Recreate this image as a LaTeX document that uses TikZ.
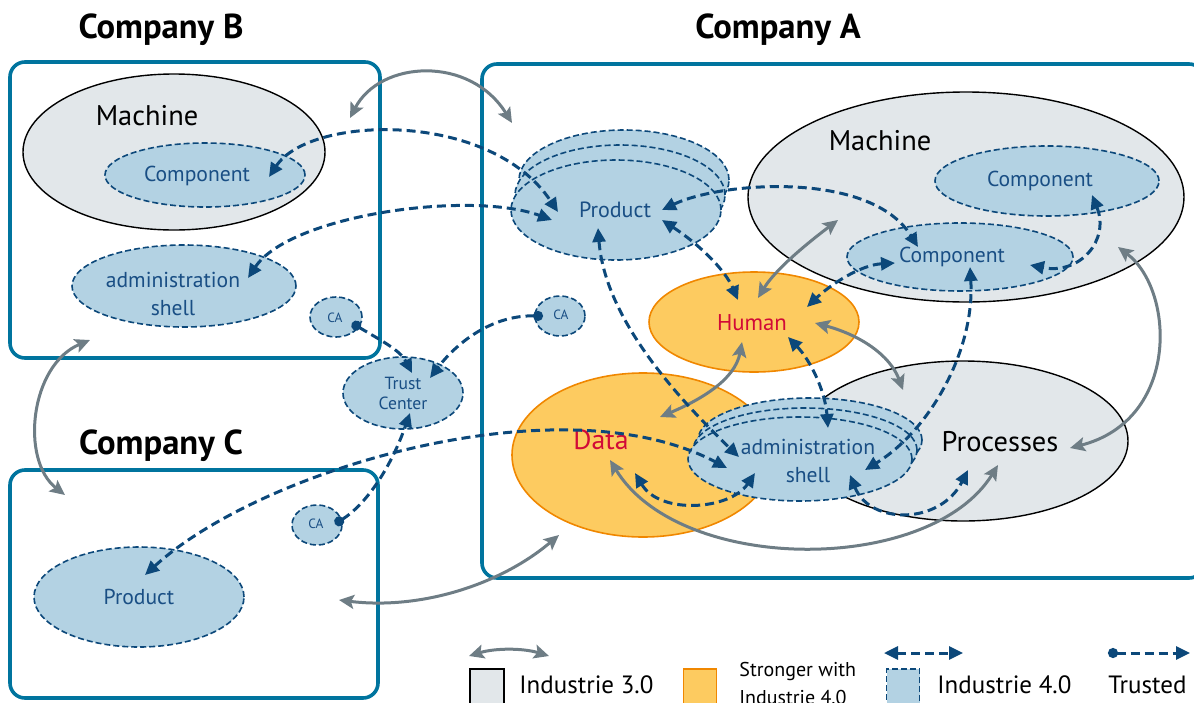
\documentclass[tikz,border=0pt]{standalone}
\usepackage{fontspec}
\setmainfont{PT Sans}
\usetikzlibrary{shapes.geometric,arrows.meta}
\definecolor{boxteal}{RGB}{0,116,158}
\definecolor{grayfill}{RGB}{226,231,234}
\definecolor{bluefill}{RGB}{179,210,227}
\definecolor{darkblue}{RGB}{12,72,122}
\definecolor{textblue}{RGB}{25,78,132}
\definecolor{orangefill}{RGB}{253,203,96}
\definecolor{orangeline}{RGB}{240,135,0}
\definecolor{arrowgray}{RGB}{110,125,133}
\definecolor{redtext}{RGB}{210,10,55}
\begin{document}
\begin{tikzpicture}[x=0.5pt,y=-0.5pt,
  company/.style={draw=boxteal, line width=1.8pt, rounded corners=7.5pt, inner sep=0pt},
  sz/.style 2 args={minimum width=#1pt, minimum height=#2pt},
  ithree/.style={ellipse, draw=black, line width=0.7pt, fill=grayfill, inner sep=0pt},
  ifour/.style={ellipse, draw=darkblue, line width=0.8pt, dash pattern=on 3pt off 1.5pt, fill=bluefill, inner sep=0pt},
  stronger/.style={ellipse, draw=orangeline, line width=0.8pt, fill=orangefill, inner sep=0pt},
  title/.style={font=\bfseries\fontsize{17.3}{20}\selectfont, inner sep=0pt},
  biglab/.style={font=\fontsize{14.2}{16}\selectfont, inner sep=0pt},
  bluelab/.style={font=\fontsize{10.8}{14}\selectfont, text=textblue, align=center, inner sep=0pt},
  calab/.style={font=\fontsize{6.7}{8}\selectfont, text=textblue, inner sep=0pt},
  tclab/.style={font=\fontsize{8.8}{10}\selectfont, text=textblue, align=center, inner sep=0pt},
  redlab/.style={text=redtext, inner sep=0pt},
  leglab/.style={font=\fontsize{12.5}{14}\selectfont, anchor=west, inner sep=0pt},
  gr/.style={draw=arrowgray, line width=1.5pt,
    {Stealth[length=7.5pt,width=7pt,inset=1.5pt]}-{Stealth[length=7.5pt,width=7pt,inset=1.5pt]}},
  bl/.style={draw=darkblue, line width=1.5pt, dash pattern=on 4.5pt off 2.5pt,
    {Triangle[length=7pt,width=6.5pt]}-{Triangle[length=7pt,width=6.5pt]}},
  tr/.style={draw=darkblue, line width=1.5pt, dash pattern=on 4.5pt off 2.5pt,
    {Circle[length=5pt]}-{Triangle[length=7pt,width=6.5pt]}}
]
\useasboundingbox (0,0) rectangle (1194,702);
\clip (0,0) rectangle (1194,702);

% company frames
\node[company, sz={185}{148}] (boxB) at (195,210) {};
\node[company, sz={361}{257}] (boxA) at (843,321) {};
\node[company, sz={184}{114}] (boxC) at (194,584) {};
\node[title] (titleB) at (161,30) {Company B};
\node[title] (titleA) at (778,30) {Company A};
\node[title] (titleC) at (161,446) {Company C};

% Company B
\node[ithree, sz={151}{78}] (machB) at (174,152) {};
\node[biglab] (machBl) at (147,116) {Machine};
\node[ifour, sz={100}{32}] (compB) at (205,175) {};
\node[bluelab] (compBl) at (197,176) {Component};
\node[ifour, sz={112}{41}] (adminB) at (184,286) {};
\node[bluelab] (adminBl) at (173,294) {administration\\shell};
\node[ifour, sz={26}{20}] (caB) at (336,317) {};
\node[calab] (caBl) at (335,318) {CA};

% between the companies
\node[ifour, sz={60}{36}] (trust) at (403,393) {};
\node[tclab] (trustl) at (403,393) {Trust\\Center};
\node[ifour, sz={25}{20}] (caA) at (560,316) {};
\node[calab] (caAl) at (561,315) {CA};

% Company C
\node[ifour, sz={25}{20}] (caC) at (317,525) {};
\node[calab] (caCl) at (316,524) {CA};
\node[ifour, sz={105}{50}] (prodC) at (139,597) {};
\node[bluelab] (prodCl) at (139,597) {Product};

% Company A
\node[ithree, sz={218}{105}] (machA) at (966,197) {};
\node[biglab] (machAl) at (880,141) {Machine};
\node[ifour, sz={112}{35}] (compA1) at (1047,181) {};
\node[bluelab] (compA1l) at (1040,181) {Component};
\node[ifour, sz={113}{34}] (compA2) at (960,257) {};
\node[bluelab] (compA2l) at (952,257) {Component};
\node[ithree, sz={165}{80}] (proc) at (963,441) {};
\node[biglab] (procl) at (1000,442) {Processes};
\node[stronger, sz={105}{50}] (human) at (754,322) {};
\node[redlab, font=\fontsize{11.4}{13}\selectfont] (humanl) at (752,323) {Human};
\node[stronger, sz={131}{82}] (data) at (643,455) {};
\node[redlab, font=\fontsize{13.9}{16}\selectfont] (datal) at (601,440) {Data};
\node[ifour, sz={105}{50}] (prodA3) at (624,180) {};
\node[ifour, sz={105}{50}] (prodA2) at (620,195) {};
\node[ifour, sz={105}{50}] (prodA) at (616,210) {};
\node[bluelab, font=\fontsize{11}{14}\selectfont] (prodAl) at (615,210) {Product};
\node[ifour, sz={112}{42}] (adminA3) at (810,440) {};
\node[ifour, sz={112}{42}] (adminA2) at (805,450) {};
\node[ifour, sz={112}{42}] (adminA) at (800,459) {};
\node[bluelab] (adminAl) at (808,461) {administration\\shell};

% connector ends
\coordinate (gTopB) at (350,118);   \coordinate (gTopA) at (512,123);
\coordinate (gLeftB) at (90,340);   \coordinate (gLeftC) at (65,495);
\coordinate (gBotC) at (339,600);   \coordinate (gBotA) at (559,535);
\coordinate (gMach) at (838,220);   \coordinate (gHumTop) at (758,298);
\coordinate (gHumR) at (815,323);   \coordinate (gProcTop) at (903,390);
\coordinate (gHumB) at (742,342);   \coordinate (gDataTop) at (660,417);
\coordinate (gMachR) at (1118,247); \coordinate (gProcR) at (1070,448);
\coordinate (gDataIn) at (610,460); \coordinate (gProcIn) at (998,465);

\coordinate (bCompB) at (269,177);  \coordinate (bProd1) at (558,212);
\coordinate (bAdminB) at (248,278); \coordinate (bProd2) at (552,220);
\coordinate (bProdR) at (662,210);  \coordinate (bComp2a) at (918,247);
\coordinate (bProdR2) at (662,220); \coordinate (bHum1) at (738,300);
\coordinate (bProdB) at (598,228);  \coordinate (bAdm1) at (739,457);
\coordinate (bComp2b) at (895,263); \coordinate (bHum2) at (807,307);
\coordinate (bComp1) at (1092,195); \coordinate (bComp2c) at (1030,265);
\coordinate (bComp2d) at (970,267); \coordinate (bAdm2) at (865,470);
\coordinate (bHum3) at (788,337);   \coordinate (bAdm3) at (828,428);
\coordinate (bData) at (635,473);   \coordinate (bAdm4) at (755,473);
\coordinate (bAdm5) at (850,475);   \coordinate (bProc) at (968,470);
\coordinate (bProdC) at (145,575);  \coordinate (bAdm6) at (727,468);

\coordinate (tCaB) at (352,323);    \coordinate (tTc1) at (412,373);
\coordinate (tCaA) at (543,316);    \coordinate (tTc2) at (430,378);
\coordinate (tCaC) at (335,524);    \coordinate (tTc3) at (410,413);

% Industrie 3.0 links
\draw[gr] (gTopB) .. controls (380,60) and (470,55) .. (gTopA);
\draw[gr] (gLeftB) .. controls (30,365) and (20,460) .. (gLeftC);
\draw[gr] (gBotC) .. controls (420,610) and (500,585) .. (gBotA);
\draw[gr] (gMach) .. controls (805,245) and (775,270) .. (gHumTop);
\draw[gr] (gHumR) .. controls (860,335) and (890,355) .. (gProcTop);
\draw[gr] (gHumB) .. controls (735,380) and (700,400) .. (gDataTop);
\draw[gr] (gMachR) .. controls (1175,290) and (1180,420) .. (gProcR);
\draw[gr] (gDataIn) .. controls (680,575) and (930,575) .. (gProcIn);

% Industrie 4.0 links
\draw[bl] (bCompB) .. controls (310,115) and (490,110) .. (bProd1);
\draw[bl] (bAdminB) .. controls (290,215) and (470,190) .. (bProd2);
\draw[bl] (bProdR) .. controls (720,182) and (870,170) .. (bComp2a);
\draw[bl] (bProdR2) .. controls (700,245) and (725,270) .. (bHum1);
\draw[bl] (bProdB) .. controls (605,320) and (680,400) .. (bAdm1);
\draw[bl] (bComp2b) .. controls (860,265) and (830,285) .. (bHum2);
\draw[bl] (bComp1) .. controls (1110,240) and (1080,275) .. (bComp2c);
\draw[bl] (bComp2d) .. controls (975,350) and (930,430) .. (bAdm2);
\draw[bl] (bHum3) .. controls (810,360) and (825,390) .. (bAdm3);
\draw[bl] (bData) .. controls (660,515) and (730,510) .. (bAdm4);
\draw[bl] (bAdm5) .. controls (870,525) and (940,525) .. (bProc);
\draw[bl] (bProdC) .. controls (260,470) and (560,380) .. (bAdm6);

% trusted links
\draw[tr] (tCaB) .. controls (380,340) and (400,350) .. (tTc1);
\draw[tr] (tCaA) .. controls (490,315) and (455,345) .. (tTc2);
\draw[tr] (tCaC) .. controls (365,505) and (390,470) .. (tTc3);

% legend
\coordinate (lg1a) at (469,656); \coordinate (lg1b) at (549,656);
\coordinate (lg2a) at (884,653); \coordinate (lg2b) at (963,653);
\coordinate (lg3a) at (1108,653); \coordinate (lg3b) at (1190,653);
\draw[gr] (lg1a) .. controls (495,648) and (523,648) .. (lg1b);
\draw[bl] (lg2a) -- (lg2b);
\draw[tr] (lg3a) -- (lg3b);
\node[draw=black, line width=0.9pt, fill=grayfill, sz={17}{22}, inner sep=0pt] (leg3) at (487,691) {};
\node[draw=orangeline, line width=0.9pt, fill=orangefill, sz={16.5}{22}, inner sep=0pt] (legS) at (700,691) {};
\node[draw=darkblue, line width=0.8pt, dash pattern=on 3pt off 1.5pt, fill=bluefill, sz={16.5}{22}, inner sep=0pt] (leg4) at (903,691) {};
\node[leglab] (leg3l) at (519,685) {Industrie 3.0};
\node[font=\fontsize{10}{14}\selectfont, align=left, anchor=north west, inner sep=0pt] (legSl) at (739,662) {Stronger with\\Industrie 4.0};
\node[leglab] (leg4l) at (937,685) {Industrie 4.0};
\node[leglab] (legTl) at (1108,685) {Trusted};
\end{tikzpicture}
\end{document}
